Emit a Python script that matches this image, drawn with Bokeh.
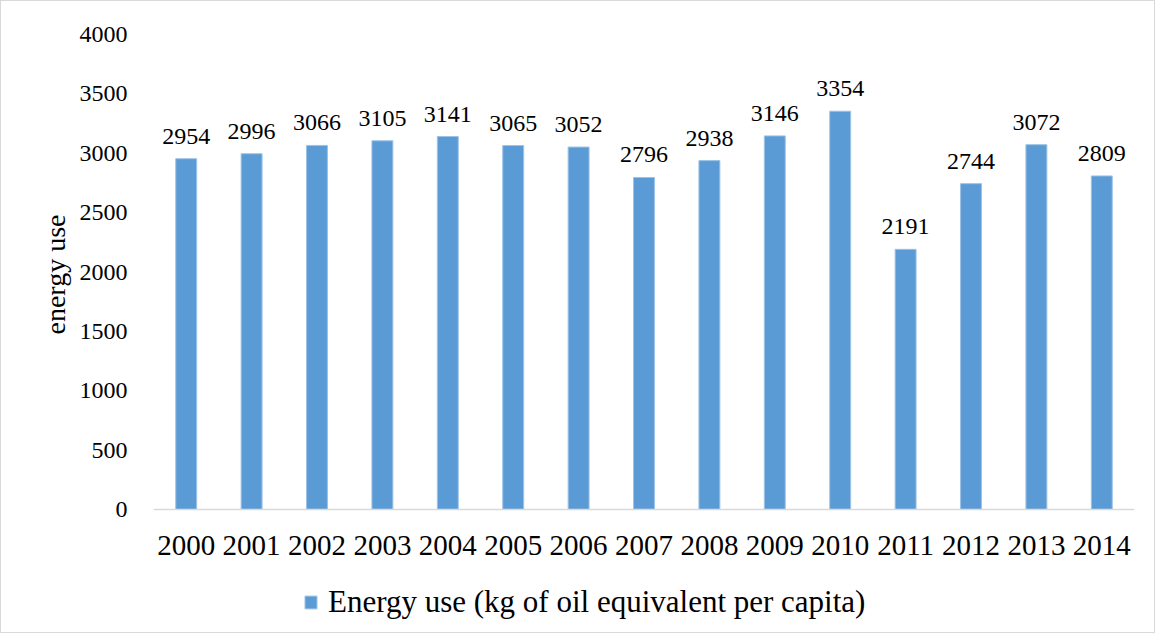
from bokeh.plotting import figure
from bokeh.models import (ColumnDataSource, FactorRange, Range1d, LabelSet,
                          Legend, LegendItem, FixedTicker, Span, Title)
from bokeh.embed import file_html
from bokeh.resources import INLINE

years = ["2000", "2001", "2002", "2003", "2004", "2005", "2006", "2007",
         "2008", "2009", "2010", "2011", "2012", "2013", "2014"]
energy_use = [2954, 2996, 3066, 3105, 3141, 3065, 3052, 2796,
              2938, 3146, 3354, 2191, 2744, 3072, 2809]
y_ticks = [0, 500, 1000, 1500, 2000, 2500, 3000, 3500, 4000]
series_name = "Energy use (kg of oil equivalent per capita)"
y_title = "energy use"

FONT = "Liberation Serif"
BLUE = "#5B9BD5"

# layout (pixels)
W, H = 1155, 633
FRAME_L, FRAME_R, FRAME_T, ZERO_Y = 152, 1133, 33, 508
Y_MAX = 4000
px_per_unit = (ZERO_Y - FRAME_T) / Y_MAX
y_start = -(H - ZERO_Y) / px_per_unit

source = ColumnDataSource(dict(year=years, value=energy_use,
                               label=[str(v) for v in energy_use]))

p = figure(width=W, height=H, output_backend="svg", toolbar_location=None,
           x_range=FactorRange(factors=years, range_padding=0),
           y_range=Range1d(y_start, Y_MAX),
           min_border_left=FRAME_L, min_border_right=W - FRAME_R,
           min_border_top=FRAME_T, min_border_bottom=0)
p.styles = {"border": "1px solid #D9D9D9"}
p.outline_line_color = None
p.xgrid.grid_line_color = None
p.ygrid.grid_line_color = None
p.xaxis.visible = False

r = p.vbar(x="year", top="value", width=0.32, source=source,
           fill_color=BLUE, line_color="#9CC2E5", line_width=1)

# baseline (category axis line)
p.add_layout(Span(location=0, dimension="width", line_color="#D9D9D9",
                  line_width=1.5))

# y axis
p.yaxis.ticker = FixedTicker(ticks=y_ticks)
p.yaxis.axis_line_color = None
p.yaxis.major_tick_line_color = None
p.yaxis.minor_tick_line_color = None
p.yaxis.major_label_standoff = 20
p.yaxis.major_label_text_font = FONT
p.yaxis.major_label_text_font_size = "24px"
p.yaxis.major_label_text_color = "#000000"

ytitle = Title(text=y_title, align="left", offset=(H - 333),
               text_font=FONT, text_font_size="28px", text_font_style="normal",
               text_color="#000000", standoff=12)
p.add_layout(ytitle, "left")

# category labels under the bars
xlabels = LabelSet(x="year", y=0, text="year", source=source,
                   text_align="center", text_baseline="alphabetic", y_offset=-45,
                   text_font=FONT, text_font_size="29px", text_color="#000000")
p.add_layout(xlabels)

# value labels above the bars
labels = LabelSet(x="year", y="value", text="label", source=source,
                  text_align="center", text_baseline="alphabetic", y_offset=15,
                  text_font=FONT, text_font_size="24px", text_color="#000000")
p.add_layout(labels)

legend = Legend(items=[LegendItem(label=series_name, renderers=[r])],
                location=(150, 14), padding=0, margin=0, spacing=0,
                glyph_width=15, glyph_height=16, label_standoff=10,
                label_text_font=FONT, label_text_font_size="31px",
                label_text_color="#000000", border_line_color=None,
                background_fill_alpha=0)
p.add_layout(legend)

open("out.html", "w").write(file_html(p, INLINE))
